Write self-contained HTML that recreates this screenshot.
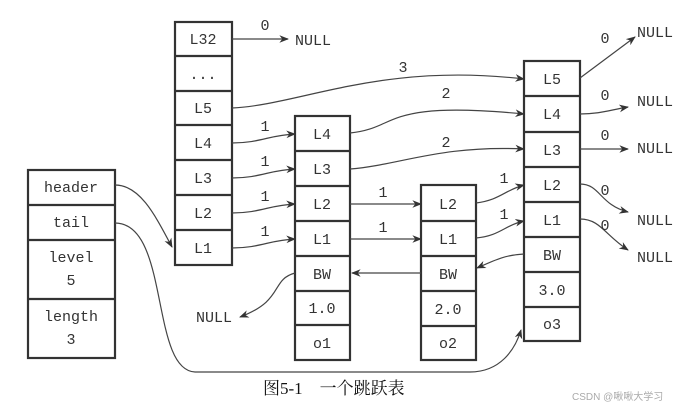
<!DOCTYPE html>
<html><head><meta charset="utf-8"><style>
body{margin:0;background:#fff;}
svg text{font-family:"Liberation Mono",monospace;font-size:15px;fill:#333;}
</style></head><body>
<svg width="687" height="409" viewBox="0 0 687 409" xmlns="http://www.w3.org/2000/svg">
<defs><marker id="a" viewBox="0 0 10 10" refX="9" refY="5" markerWidth="8" markerHeight="8" orient="auto"><path d="M0,1 L10,5 L0,9 L3,5z" fill="#333"/></marker></defs>
<g fill="none" stroke="#333" stroke-width="2.2">
<rect x="28" y="170" width="87" height="188"/>
<path d="M28 205H115M28 240H115M28 299H115"/>
<rect x="175" y="22" width="57" height="243"/>
<path d="M175 56H232M175 91H232M175 125H232M175 160H232M175 195H232M175 230H232"/>
<rect x="295" y="116" width="55" height="244"/>
<path d="M295 151H350M295 186H350M295 221H350M295 256H350M295 291H350M295 325H350"/>
<rect x="421" y="185" width="55" height="175"/>
<path d="M421 221H476M421 256H476M421 291H476M421 326H476"/>
<rect x="524" y="61" width="56" height="280"/>
<path d="M524 96H580M524 132H580M524 167H580M524 202H580M524 237H580M524 272H580M524 307H580"/>
</g>
<g fill="none" stroke="#444" stroke-width="1.2" marker-end="url(#a)">
<path d="M232 39H288"/>
<path d="M232 108C300 105 380 62 524 79"/>
<path d="M232 143C260 143 270 135 295 134"/>
<path d="M232 178C260 178 270 170 295 169"/>
<path d="M232 213C260 213 270 205 295 204"/>
<path d="M232 248C260 248 270 240 295 239"/>
<path d="M350 133C400 128 380 100 524 114"/>
<path d="M350 169C400 165 440 145 524 149"/>
<path d="M350 204H421"/>
<path d="M350 239H421"/>
<path d="M476 203C500 200 505 190 524 185"/>
<path d="M476 238C500 236 505 225 524 221"/>
<path d="M421 273H352"/>
<path d="M524 254C505 255 495 260 477 268"/>
<path d="M295 273C270 280 285 300 240 317"/>
<path d="M580 78L635 37"/>
<path d="M580 114C600 114 610 110 628 107"/>
<path d="M580 149H628"/>
<path d="M580 184C600 184 600 205 628 212"/>
<path d="M580 219C600 219 605 235 628 250"/>
<path d="M115 185C140 185 155 215 172 247"/>
<path d="M115 223C170 223 150 370 195 372H470C500 372 515 350 521 330"/>
</g>
<g text-anchor="middle">
<text x="71" y="192">header</text><text x="71" y="227">tail</text>
<text x="71" y="262">level</text><text x="71" y="285">5</text>
<text x="71" y="321">length</text><text x="71" y="344">3</text>
<text x="203" y="44">L32</text><text x="203" y="79">...</text><text x="203" y="113">L5</text>
<text x="203" y="148">L4</text><text x="203" y="183">L3</text><text x="203" y="218">L2</text><text x="203" y="253">L1</text>
<text x="322" y="139">L4</text><text x="322" y="174">L3</text><text x="322" y="209">L2</text><text x="322" y="244">L1</text>
<text x="322" y="279">BW</text><text x="322" y="313">1.0</text><text x="322" y="348">o1</text>
<text x="448" y="209">L2</text><text x="448" y="244">L1</text><text x="448" y="279">BW</text>
<text x="448" y="314">2.0</text><text x="448" y="348">o2</text>
<text x="552" y="84">L5</text><text x="552" y="119">L4</text><text x="552" y="155">L3</text>
<text x="552" y="190">L2</text><text x="552" y="225">L1</text><text x="552" y="260">BW</text>
<text x="552" y="295">3.0</text><text x="552" y="329">o3</text>
<text x="265" y="30">0</text><text x="265" y="131">1</text><text x="265" y="166">1</text><text x="265" y="201">1</text><text x="265" y="236">1</text>
<text x="403" y="72">3</text><text x="446" y="98">2</text><text x="446" y="147">2</text>
<text x="383" y="197">1</text><text x="383" y="232">1</text>
<text x="504" y="183">1</text><text x="504" y="219">1</text>
<text x="605" y="43">0</text><text x="605" y="100">0</text><text x="605" y="140">0</text><text x="605" y="195">0</text><text x="605" y="230">0</text>
</g>
<text x="295" y="45">NULL</text><text x="196" y="322">NULL</text>
<text x="637" y="37">NULL</text><text x="637" y="106">NULL</text><text x="637" y="153">NULL</text>
<text x="637" y="225">NULL</text><text x="637" y="262">NULL</text>
<text x="263" y="394" style="font-family:'Liberation Serif','Noto Serif CJK SC',serif;font-size:17px;fill:#111">图5-1　一个跳跃表</text>
<text x="572" y="400" style="font-family:'Liberation Sans','Noto Sans CJK SC',sans-serif;font-size:10px;fill:#aaa">CSDN @啾啾大学习</text>
</svg>
</body></html>
